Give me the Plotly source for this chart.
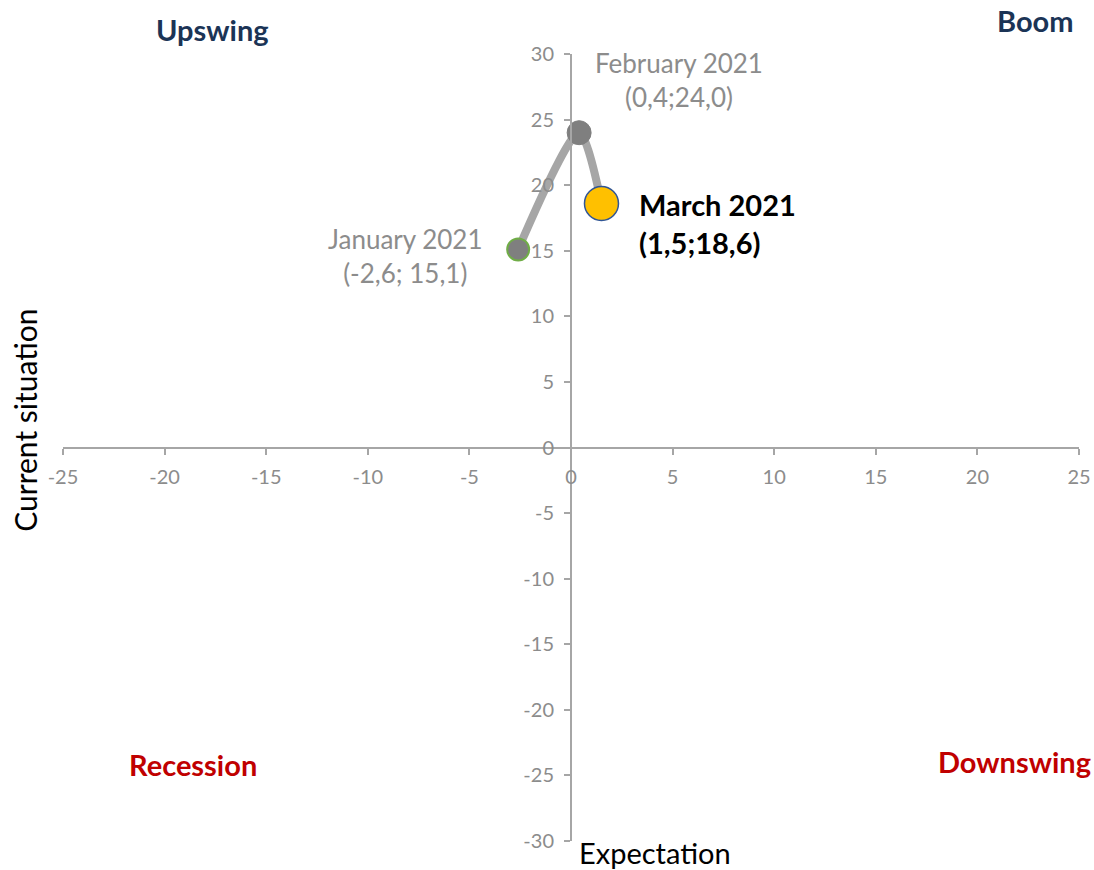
import plotly.graph_objects as go

months = ["January 2021", "February 2021", "March 2021"]
expectation = [-2.6, 0.4, 1.5]
current = [15.1, 24.0, 18.6]
value_labels = ["(-2,6; 15,1)", "(0,4;24,0)", "(1,5;18,6)"]
tick_vals_x = [-25, -20, -15, -10, -5, 0, 5, 10, 15, 20, 25]
tick_vals_y = [-30, -25, -20, -15, -10, -5, 0, 5, 10, 15, 20, 25, 30]

FONT = "Lato"
GRAY_TXT = "#8C8C8C"
AXIS = "#A6A6A6"

fig = go.Figure()
fig.add_trace(go.Scatter(
    x=expectation, y=current, mode="lines",
    line=dict(color="#A6A6A6", width=8, shape="spline", smoothing=0.7),
    hoverinfo="skip", showlegend=False))
fig.add_trace(go.Scatter(
    x=expectation, y=current, mode="markers",
    marker=dict(size=[22, 24, 34], color=["#7F7F7F", "#7F7F7F", "#FFC000"],
                line=dict(color=["#70AD47", "#7F7F7F", "#2F5597"], width=[2, 1, 1.5]),
                opacity=1),
    text=months, showlegend=False))

# data labels anchored to the points
fig.add_annotation(x=expectation[0], y=current[0], xref="x", yref="y",
                   text=months[0] + "<br>" + value_labels[0], showarrow=False,
                   xanchor="center", yanchor="middle",
                   xshift=-113, yshift=-7, align="center",
                   font=dict(family=FONT, size=26, color=GRAY_TXT))
fig.add_annotation(x=expectation[1], y=current[1], xref="x", yref="y",
                   text=months[1] + "<br>" + value_labels[1], showarrow=False,
                   xanchor="center", yanchor="middle",
                   xshift=100, yshift=53, align="center",
                   font=dict(family=FONT, size=26, color=GRAY_TXT))
fig.add_annotation(x=expectation[2], y=current[2], xref="x", yref="y",
                   text="<b>" + months[2] + "<br>" + value_labels[2] + "</b>", showarrow=False,
                   xanchor="left", yanchor="middle", xshift=36, yshift=-20, align="left",
                   font=dict(family=FONT, size=29, color="#000000"))

# quadrant labels
NAVY = "#1B3456"
RED = "#C00000"
quads = [("Upswing", 0.1467, 1.0305, NAVY), ("Boom", 0.957, 1.043, NAVY),
         ("Recession", 0.128, 0.0978, RED), ("Downswing", 0.937, 0.1004, RED)]
for txt, px, py, col in quads:
    fig.add_annotation(x=px, y=py, xref="paper", yref="paper", text="<b>" + txt + "</b>",
                       xanchor="center", yanchor="middle",
                       showarrow=False, font=dict(family=FONT, size=29, color=col))

# axis titles
fig.add_annotation(x=-0.0374, y=0.534, xref="paper", yref="paper", text="Current situation",
                   xanchor="center", yanchor="middle",
                   textangle=-90, showarrow=False, font=dict(family=FONT, size=30, color="#000000"))
fig.add_annotation(x=0.583, y=-0.015, xref="paper", yref="paper", text="Expectation",
                   xanchor="center", yanchor="middle",
                   showarrow=False, font=dict(family=FONT, size=29, color="#000000"))

axis_common = dict(showgrid=False, zeroline=False, showline=True, linecolor=AXIS, linewidth=2,
                   ticks="outside", ticklen=6, tickwidth=2, tickcolor=AXIS,
                   tickfont=dict(family=FONT, size=20, color=GRAY_TXT), anchor="free", position=0.5)
fig.update_xaxes(range=[-25, 25], tickvals=tick_vals_x, ticktext=[str(v) for v in tick_vals_x],
                 ticklabelstandoff=5, **axis_common)
fig.update_yaxes(range=[-30, 30], tickvals=tick_vals_y, ticktext=[str(v) for v in tick_vals_y],
                 ticklabelstandoff=6, **axis_common)

fig.update_layout(width=1094, height=870, margin=dict(l=63, r=15, t=54, b=29, autoexpand=False),
                  plot_bgcolor="white", paper_bgcolor="white",
                  font=dict(family=FONT))
fig.write_html("out.html", config={"displayModeBar": False},
               post_script="document.body.style.margin='0';document.body.style.overflow='hidden';")
